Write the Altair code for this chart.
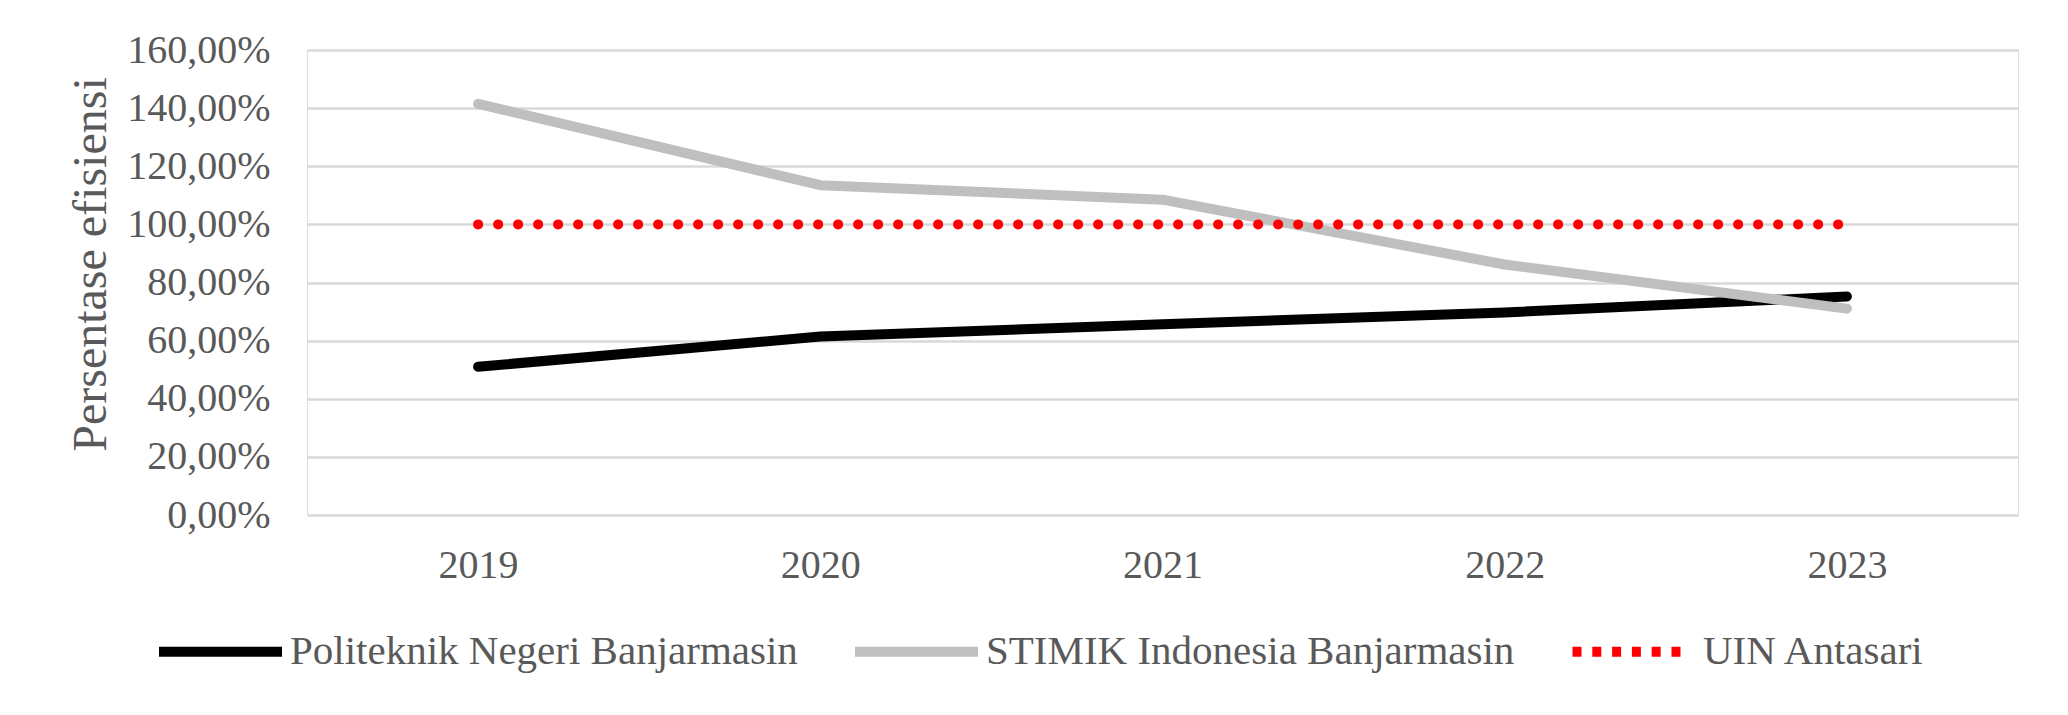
import altair as alt
import pandas as pd

years = ["2019", "2020", "2021", "2022", "2023"]
politeknik = [0.51, 0.614, 0.656, 0.697, 0.752]
stimik = [1.415, 1.135, 1.085, 0.862, 0.71]
uin = [1.0, 1.0, 1.0, 1.0, 1.0]
series_names = ["Politeknik Negeri Banjarmasin", "STIMIK Indonesia Banjarmasin", "UIN Antasari"]
colors = ["#000000", "#BFBFBF", "#FF0000"]

rows = []
for name, vals in zip(series_names, [politeknik, stimik, uin]):
    for y, v in zip(years, vals):
        rows.append({"year": y, "value": v, "series": name})
df = pd.DataFrame(rows)

FONT = "Liberation Serif"
GREY = "#595959"

# dotted legend symbol: six short 10px-wide stroke segments -> small dots (unit coords)
SYM = 123.0
half = SYM / 2
d = 4.5 / half
parts = []
for k in range(6):
    cx = (-half + 5 + 19.8 * k) / half
    parts.append(f"M{cx - d:.4f},0L{cx + d:.4f},0")
dot_path = "".join(parts)
sym_expr = f"datum.label == 'UIN Antasari' ? '{dot_path}' : 'stroke'"

legend = alt.Legend(
    title=None, orient="none", legendX=-153, legendY=535, direction="horizontal",
    symbolType={"expr": sym_expr}, symbolSize=SYM * SYM, symbolStrokeWidth=10,
    labelFont=FONT, labelFontSize=41, labelColor=GREY, labelOffset=3,
    columnPadding=37, padding=0, labelLimit=1000,
)

x_enc = alt.X(
    "year:O",
    sort=years,
    scale=alt.Scale(type="point", padding=0.5),
    axis=alt.Axis(
        title=None, labelAngle=0, ticks=False, domain=False, grid=False,
        labelFont=FONT, labelFontSize=40, labelColor=GREY, labelPadding=30,
    ),
)
y_enc = alt.Y(
    "value:Q",
    scale=alt.Scale(domain=[0, 1.6], nice=False),
    axis=alt.Axis(
        values=[0, 0.2, 0.4, 0.6, 0.8, 1.0, 1.2, 1.4, 1.6],
        labelExpr="replace(format(datum.value, '.2%'), '.', ',')",
        ticks=False, domain=False, grid=True, gridColor="#D9D9D9", gridWidth=2.5,
        labelFont=FONT, labelFontSize=40, labelColor=GREY, labelPadding=37,
        title="Persentase efisiensi", titleFont=FONT, titleFontSize=48,
        titleFontWeight="normal", titleColor=GREY, titleX=-202, titleY=214,
        titleAngle=-90, titleAlign="center", titleBaseline="alphabetic",
    ),
)
color_scale = alt.Scale(domain=series_names, range=colors)

base = alt.Chart(df)

solid = (
    base.transform_filter(alt.datum.series != "UIN Antasari")
    .mark_line(strokeWidth=10, strokeCap="round", strokeJoin="round")
    .encode(
        x=x_enc,
        y=y_enc,
        color=alt.Color("series:N", sort=series_names, scale=color_scale, legend=legend),
    )
)

dotted = (
    base.transform_filter(alt.datum.series == "UIN Antasari")
    .mark_line(strokeWidth=10, strokeCap="round", strokeDash=[0.1, 19.9])
    .encode(
        x=x_enc,
        y=y_enc,
        color=alt.Color("series:N", sort=series_names, scale=color_scale, legend=None),
    )
)

chart = (
    alt.layer(solid, dotted)
    .properties(
        width=1711, height=465,
        autosize=alt.AutoSizeParams(type="none"),
        padding={"left": 299, "top": 42, "right": 42, "bottom": 190},
    )
    .configure_view(stroke=None)
    .configure(background="white")
)

chart.save("out.html", embed_options={"renderer": "svg", "actions": False})
